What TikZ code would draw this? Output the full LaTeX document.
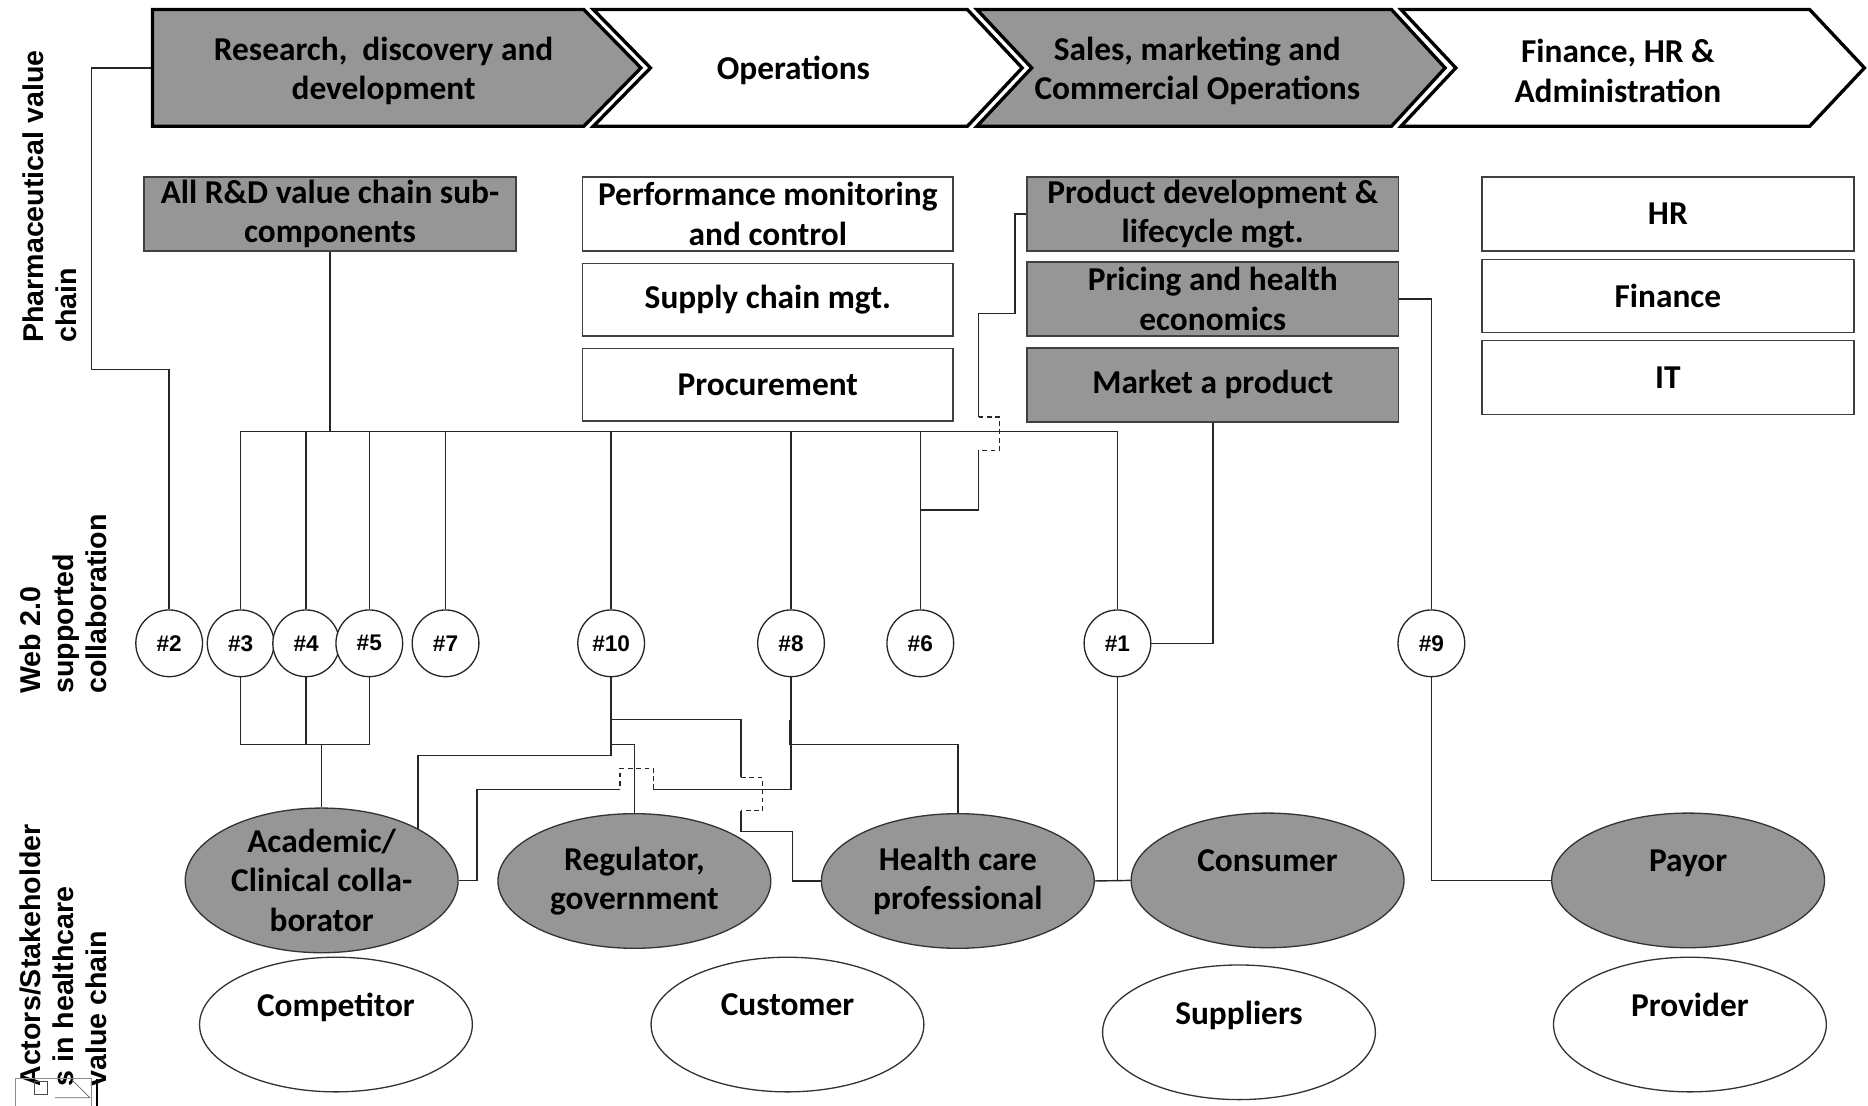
\documentclass[tikz,border=0pt]{standalone}
\usepackage{fontspec}
\setmainfont{Carlito}
\newfontfamily\labelfont{Liberation Sans}
\usetikzlibrary{shapes.geometric,backgrounds}

\definecolor{boxgray}{RGB}{150,150,150}

\begin{document}
\begin{tikzpicture}[x=1pt,y=-1pt,
  txt/.style={font=\fontsize{28}{33}\selectfont\bfseries, align=center, text=black},
  chev/.style={draw=black, line width=2.8pt, line join=miter},
  stage/.style={txt, inner sep=0pt},
  subbox/.style={txt, draw=black!75, line width=1.3pt, rectangle, minimum width=312pt, minimum height=62pt, inner sep=0pt},
  graybox/.style={subbox, fill=boxgray},
  whitebox/.style={subbox, fill=white},
  web/.style={circle, draw=black!85, line width=1.1pt, fill=white, minimum size=56pt, inner sep=0pt, font=\labelfont\bfseries\fontsize{19}{22}\selectfont},
  actor/.style={ellipse, draw=black!80, line width=1.1pt, minimum width=229pt, minimum height=113pt, inner sep=0pt, txt},
  grayactor/.style={actor, fill=boxgray},
  whiteactor/.style={actor, fill=white},
  side/.style={rotate=90, font=\labelfont\bfseries\fontsize{24}{28}\selectfont, align=left, inner sep=0pt},
  link/.style={draw=black!85, line width=1.2pt},
  hop/.style={link, dashed, dash pattern=on 4pt off 3pt}
]
\useasboundingbox (0,0) rectangle (1568,928);

% ---- value chain stages (chevrons) ----
\filldraw[chev, fill=boxgray] (128,8) -- (490,8) -- (538,57) -- (490,106) -- (128,106) -- cycle;
\filldraw[chev, fill=white] (498,8) -- (812,8) -- (858,57) -- (812,106) -- (498,106) -- (546,57) -- cycle;
\filldraw[chev, fill=boxgray] (820,8) -- (1168,8) -- (1213,57) -- (1168,106) -- (820,106) -- (866,57) -- cycle;
\filldraw[chev, fill=white] (1176,8) -- (1519,8) -- (1565,57) -- (1519,106) -- (1176,106) -- (1222,57) -- cycle;
\coordinate (c1w) at (128,57);

\node[stage] (s1) at (322,59.5) {Research,\ \ discovery and\\development};
\node[stage] (s2) at (666,59.5) {Operations};
\node[stage] (s3) at (1005,59.5) {Sales, marketing and\\Commercial Operations};
\node[stage] (s4) at (1358,59.5) {Finance, HR \&\\Administration};

% ---- sub-components ----
\node[graybox] (rd) at (277,179.5) {All R\&D value chain sub-\\components};
\node[whitebox, minimum width=311pt] (perf) at (644.5,179.5) {Performance monitoring\\and control};
\node[whitebox, minimum width=311pt, minimum height=61pt] (supply) at (644.5,251.5) {Supply chain mgt.};
\node[whitebox, minimum width=311pt, minimum height=61pt] (proc) at (644.5,323) {Procurement};
\node[graybox] (prod) at (1018,179.5) {Product development \&\\lifecycle mgt.};
\node[graybox] (price) at (1018,251) {Pricing and health\\economics};
\node[graybox] (market) at (1018,323) {Market a product};
\node[whitebox] (hr) at (1400,179.5) {HR};
\node[whitebox, minimum height=61pt] (fin) at (1400,248.5) {Finance};
\node[whitebox] (it) at (1400,317) {IT};

% ---- Web 2.0 collaboration cases ----
\node[web] (n2) at (142,540) {\#2};
\node[web] (n3) at (202,540) {\#3};
\node[web] (n4) at (257,540) {\#4};
\node[web] (n5) at (310,540) {\#5};
\node[web] (n7) at (374,540) {\#7};
\node[web] (n10) at (513,540) {\#10};
\node[web] (n8) at (664,540) {\#8};
\node[web] (n6) at (772.5,540) {\#6};
\node[web] (n1) at (938,540) {\#1};
\node[web] (n9) at (1201.5,540) {\#9};

% ---- actors / stakeholders ----
\node[grayactor] (acad) at (270,739) {Academic/\\Clinical colla-\\borator};
\node[grayactor] (reg) at (532.5,739.5) {Regulator,\\government};
\node[grayactor] (hc) at (804,739.5) {Health care\\professional};
\node[grayactor] (cons) at (1064,739) {Consumer\\\mbox{}};
\node[grayactor] (payor) at (1417,739) {Payor\\\mbox{}};
\node[whiteactor] (comp) at (282,860) {Competitor\\\mbox{}};
\node[whiteactor] (cust) at (661,860) {Customer\\\mbox{}};
\node[whiteactor] (supp) at (1040,866.5) {Suppliers\\\mbox{}};
\node[whiteactor] (prov) at (1418.5,860) {Provider\\\mbox{}};

% ---- row labels ----
\node[side] (lab1) at (42,165) {Pharmaceutical value\\chain};
\node[side] (lab2) at (53,507) {Web 2.0\\supported\\collaboration};
\node[side] (lab3) at (53,802) {Actors/Stakeholder\\s in healthcare\\value chain};

% ---- embedded object placeholder ----
\draw[black!45, line width=0.6pt] (12.6,905) rectangle (77,932);
\draw[black!60, line width=0.6pt] (46,921.5) -- (75.5,921.5) -- (60.5,906.5);
\draw[black!70, line width=0.6pt] (29,908) rectangle (40,919);
\draw[black, line width=1.5pt] (81.5,906) -- (81.5,928);

% ---- connectors ----
\begin{pgfonlayer}{background}
\fill[white] (0,0) rectangle (1568,928);

% research stage to case 2
\draw[link] (c1w) -- (77,57) -- (77,310) -| (n2.north);

% R&D bus
\draw[link] (rd.south) -- (277,362);
\draw[link] (n3.north) -- (202,362) -- (938,362) -- (n1.north);
\foreach \n/\x in {n4/257, n5/310, n7/374, n10/513, n8/664, n6/772.5}
  \draw[link] (\n.north) -- (\x,362);

% product development to case 6 (hopping the bus)
\draw[link] (prod.west) -- (852,179.5) |- (821.5,263) -- (821.5,350);
\draw[hop] (821.5,350) -- (839,350) -- (839,378) -- (821.5,378);
\draw[link] (821.5,378) -- (821.5,428) -- (772.5,428);

% marketing to case 1, pricing to case 9
\draw[link] (market.south) |- (n1.east);
\draw[link] (price.east) -| (n9.north);
\draw[link] (n9.south) |- (payor.west);

% cases 3, 4, 5 to academic collaborators
\draw[link] (n3.south) -- (202,625) -- (310,625) -- (n5.south);
\draw[link] (n4.south) -- (257,625);
\draw[link] (270,625) -- (acad.north);

% case 10
\draw[link] (n10.south) -- (513,634) -- (351,634) -- (351,739);
\draw[link] (513,604) -- (622,604) -- (622,652.5);
\draw[hop] (622,652.5) -- (640,652.5) -- (640,680.5) -- (622,680.5);
\draw[link] (622,680.5) -- (622,698) -- (665,698) |- (hc.west);
\draw[link] (513,625) -| (reg.north);

% case 8
\draw[link] (n8.south) -- (664,662.5) -- (548.5,662.5);
\draw[link] (664,625) -| (hc.north);
\draw[link, line width=2.2pt] (663.5,604) -- (663.5,625);
\draw[hop] (548.5,662.5) -- (548.5,645) -- (520.5,645) -- (520.5,662.5);
\draw[link] (520.5,662.5) -- (400.5,662.5) |- (acad.east);

% case 1
\draw[link] (n1.south) -- (938,739);
\draw[link] (hc.east) -- (cons.west);
\end{pgfonlayer}
\end{tikzpicture}
\end{document}
